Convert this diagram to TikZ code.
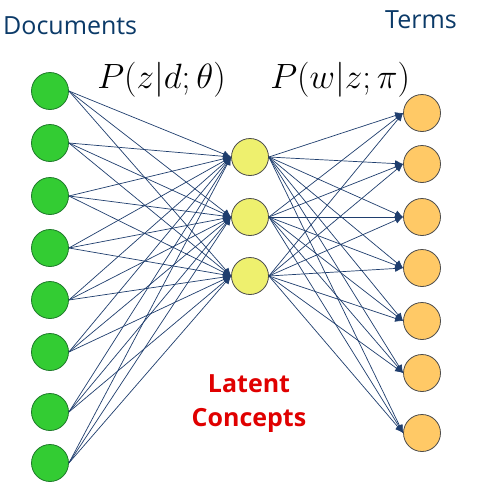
\documentclass[tikz,border=0pt]{standalone}
\usepackage{fontspec}
\setmainfont{Open Sans}
\usetikzlibrary{arrows.meta}
\definecolor{navy}{HTML}{1F3E6E}
\definecolor{titleblue}{HTML}{0B3A68}
\definecolor{docgreen}{HTML}{33CC33}
\definecolor{docedge}{HTML}{1E7A2A}
\definecolor{latyellow}{HTML}{EEF06E}
\definecolor{termorange}{HTML}{FFC966}
\definecolor{latred}{HTML}{E00000}
\begin{document}
\begin{tikzpicture}[x=1pt,y=-1pt,
  docnode/.style={circle,draw=docedge,fill=docgreen,line width=0.8pt,minimum size=37pt,inner sep=0pt},
  latnode/.style={circle,draw=black!70,fill=latyellow,line width=0.8pt,minimum size=37pt,inner sep=0pt},
  termnode/.style={circle,draw=black!70,fill=termorange,line width=0.8pt,minimum size=37pt,inner sep=0pt},
  link/.style={draw=navy,line width=0.7pt,-{Latex[length=8pt,width=7pt]}},
  title/.style={text=titleblue,font=\fontsize{25}{30}\selectfont,inner sep=0pt},
  formula/.style={font=\Huge,scale=1.41,inner sep=0pt}]
\useasboundingbox (0,0) rectangle (489,498);
\fill[white] (0,0) rectangle (489,498);

\foreach \i/\y in {1/91,2/143,3/196,4/248,5/300,6/352,7/412,8/463}
  \node[docnode] (d\i) at (50,\y) {};
\foreach \j/\y in {1/157,2/217,3/276}
  \node[latnode] (l\j) at (250,\y) {};
\foreach \k/\y in {1/113,2/164,3/217,4/268,5/321,6/373,7/433}
  \node[termnode] (t\k) at (422,\y) {};

\foreach \i in {1,...,8}
  \foreach \j in {1,2,3}
    \draw[link] (d\i.east) -- (l\j.west);
\foreach \j in {1,2,3}
  \foreach \k in {1,...,7}
    \draw[link] (l\j.east) -- (t\k.west);

\node[title,anchor=base west] (docs) at (3,34) {Documents};
\node[title,anchor=base west] (terms) at (385,28) {Terms};
\node[formula,anchor=base west] (f1) at (97,88) {$P(z|d;\theta)$};
\node[formula,anchor=base west] (f2) at (270,88) {$P(w|z;\pi)$};
\node[text=latred,font=\bfseries\fontsize{25}{34}\selectfont,align=center,anchor=base] (lc) at (249,426) {Latent\\Concepts};
\end{tikzpicture}
\end{document}
